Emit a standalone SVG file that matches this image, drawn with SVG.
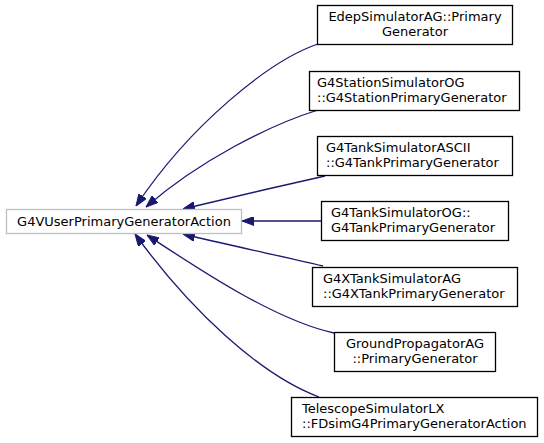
<svg xmlns="http://www.w3.org/2000/svg" width="544" height="443" viewBox="0 0 544 443">
<defs>
<marker id="arr" viewBox="0 0 12 9" refX="12" refY="4.5" markerWidth="12" markerHeight="9" markerUnits="userSpaceOnUse" orient="auto">
<path d="M0,0 L12,4.5 L0,9 z" fill="#191970" stroke="#191970" stroke-width="1"/>
</marker>
<style>
text{font-family:"DejaVu Sans","Liberation Sans",sans-serif;font-size:13px;fill:#000}
.box{fill:#fff;stroke:#000;stroke-width:1.3}
.root{fill:#fff;stroke:#bfbfbf;stroke-width:1.3}
.c{text-anchor:middle}
.e{fill:none;stroke:#191970;stroke-width:1.3;marker-end:url(#arr)}
</style>
</defs>
<rect width="544" height="443" fill="#fff"/>
<g id="connectors">
<path class="e" d="M318,44 C270,60 190,125 136,206"/>
<path class="e" d="M318,110 C270,125 200,160 146,207"/>
<path class="e" d="M325,176 C280,186 220,200 183,209"/>
<path class="e" d="M321,221 L242,221"/>
<path class="e" d="M323,266 C280,256 220,243 183,234"/>
<path class="e" d="M334,333 C275,320 200,270 147,235"/>
<path class="e" d="M319,397 C260,375 190,310 135,234"/>
</g>
<g id="root">
<rect class="root" x="6.5" y="209.5" width="235" height="24"/>
<text class="c" x="124" y="226">G4VUserPrimaryGeneratorAction</text>
</g>
<g id="n1">
<rect class="box" x="317.5" y="5.5" width="195" height="39"/>
<text class="c" x="415" y="21">EdepSimulatorAG::Primary</text>
<text class="c" x="415" y="36">Generator</text>
</g>
<g id="n2">
<rect class="box" x="309.5" y="71.5" width="210" height="39"/>
<text x="317" y="87">G4StationSimulatorOG</text>
<text x="317" y="102">::G4StationPrimaryGenerator</text>
</g>
<g id="n3">
<rect class="box" x="317.5" y="136.5" width="195" height="39"/>
<text x="326" y="152">G4TankSimulatorASCII</text>
<text x="326" y="167">::G4TankPrimaryGenerator</text>
</g>
<g id="n4">
<rect class="box" x="321.5" y="201.5" width="187" height="39"/>
<text x="331" y="217">G4TankSimulatorOG::</text>
<text x="331" y="232">G4TankPrimaryGenerator</text>
</g>
<g id="n5">
<rect class="box" x="312.5" y="267.5" width="205" height="39"/>
<text x="323" y="283">G4XTankSimulatorAG</text>
<text x="323" y="298">::G4XTankPrimaryGenerator</text>
</g>
<g id="n6">
<rect class="box" x="334.5" y="332.5" width="161" height="39"/>
<text class="c" x="415" y="348">GroundPropagatorAG</text>
<text class="c" x="415" y="363">::PrimaryGenerator</text>
</g>
<g id="n7">
<rect class="box" x="291.5" y="397.5" width="246" height="39"/>
<text x="302" y="413">TelescopeSimulatorLX</text>
<text x="302" y="428">::FDsimG4PrimaryGeneratorAction</text>
</g>
</svg>
